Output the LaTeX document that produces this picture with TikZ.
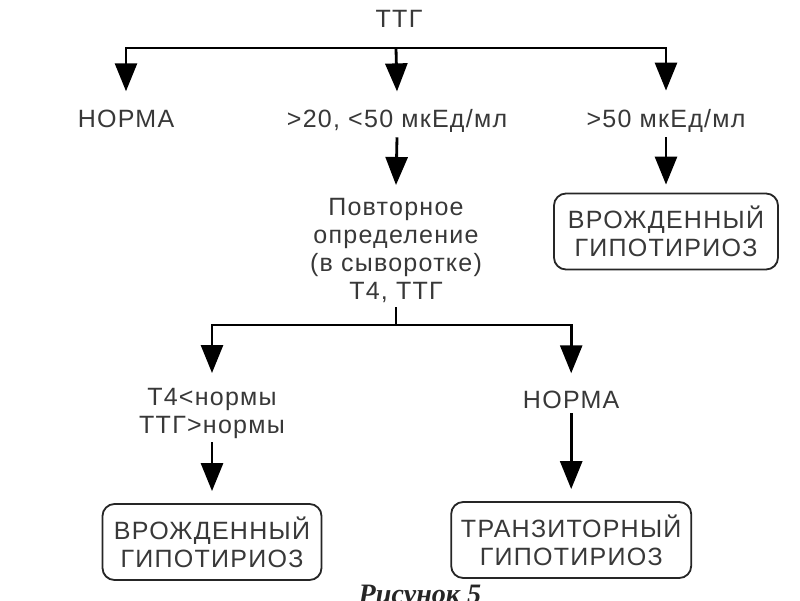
\documentclass[tikz,border=0pt]{standalone}
\usepackage{fontspec}
\setmainfont{Liberation Sans}[LetterSpace=5]
\newfontfamily\capfont{Liberation Serif}
\usepackage{xcolor}
\usetikzlibrary{arrows.meta, positioning}

\begin{document}
\begin{tikzpicture}[
    txt/.style={inner sep=0pt, text=black!78, font=\fontsize{17.8}{20}\selectfont, align=center},
    box/.style={txt, draw=black!85, line width=1.3pt, rounded corners=0.3cm, minimum height=1.9cm},
    arrow/.style={-{Triangle[length=0.7cm, width=0.55cm]}, line width=2pt},
    bar/.style={line width=2pt}
]
\useasboundingbox (0,0) rectangle (20,-15);
\clip (0,0) rectangle (20,-15);

% First level
\node[txt, anchor=base] (ttg) at (9.975,-0.675) {ТТГ};
\node[txt, anchor=base] (norm1) at (3.15,-3.175) {НОРМА};
\node[txt, anchor=base] (mid) at (9.925,-3.175) {>20, <50 мкЕд/мл};
\node[txt, anchor=base] (high) at (16.65,-3.175) {>50 мкЕд/мл};
\coordinate (split1) at (9.9,-1.2);

% Second level
\node[txt, anchor=north] (repeat) at (9.9,-4.95) {Повторное\\определение\\(в сыворотке)\\Т4, ТТГ};
\node[box, minimum width=5.6cm] (congen1) at (16.65,-5.7875) {ВРОЖДЕННЫЙ\\ГИПОТИРИОЗ};
\coordinate (split2) at (9.9,-8.125);

% Third level
\node[txt, anchor=north] (low) at (5.3,-9.7) {Т4<нормы\\ТТГ>нормы};
\node[txt, anchor=base] (norm2) at (14.28,-10.2) {НОРМА};
\node[box, minimum width=5.475cm] (congen2) at (5.3,-13.55) {ВРОЖДЕННЫЙ\\ГИПОТИРИОЗ};
\node[box, minimum width=6cm] (trans) at (14.28,-13.5) {ТРАНЗИТОРНЫЙ\\ГИПОТИРИОЗ};

% Caption
\node[anchor=base, inner sep=0pt, text=black!85, font=\capfont\bfseries\itshape\fontsize{20}{24}\selectfont] (fig) at (10.5,-15.075) {Рисунок 5};

% Arrows
\draw[arrow] (split1) -| ([yshift=0.45cm]norm1.north);
\draw[arrow] (split1) -- ([yshift=0.43cm]mid.north);
\draw[arrow] (split1) -| ([yshift=0.45cm]high.north);
\draw[arrow] ([yshift=-0.125cm]mid.south) -- ([yshift=0.325cm]repeat.north);
\draw[arrow] ([yshift=-0.125cm]high.south) -- ([yshift=0.2cm]congen1.north);
\draw[bar] ([yshift=-0.1cm]repeat.south) -- (split2);
\draw[arrow] (split2) -| ([yshift=0.375cm]low.north);
\draw[arrow] (split2) -| ([yshift=0.425cm]norm2.north);
\draw[arrow] ([yshift=-0.075cm]low.south) -- ([yshift=0.3cm]congen2.north);
\draw[arrow] ([yshift=-0.125cm]norm2.base) -- ([yshift=0.3cm]trans.north);

\end{tikzpicture}
\end{document}
